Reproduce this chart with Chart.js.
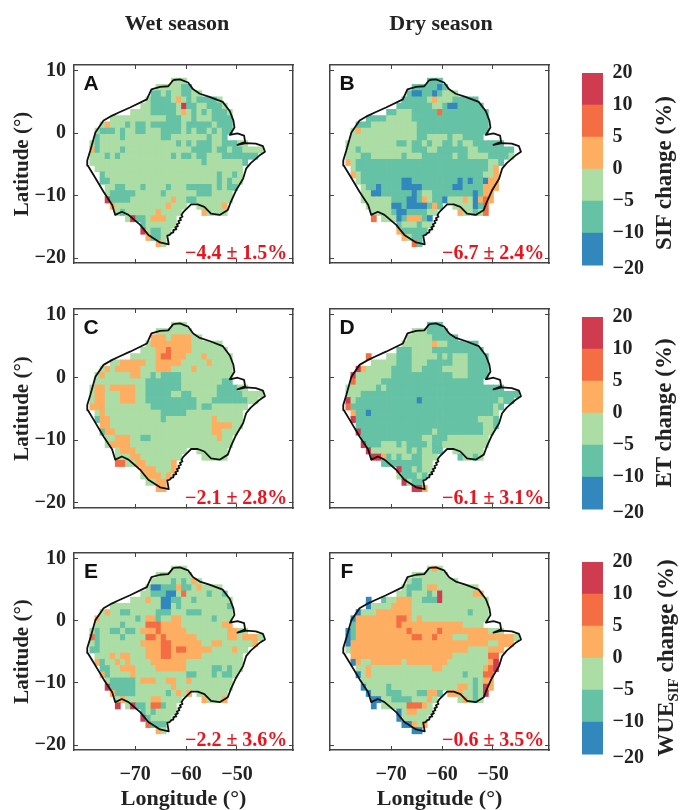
<!DOCTYPE html>
<html>
<head>
<meta charset="utf-8">
<script src="https://cdn.jsdelivr.net/npm/chart.js@4"></script>
<style>
  html, body { margin: 0; padding: 0; background: #fff; }
  #page { position: relative; width: 682px; height: 810px; overflow: hidden; font-family: "Liberation Serif", serif; font-weight: bold; color: #222; }
  #page canvas { position: absolute; }
  .txt { position: absolute; white-space: nowrap; line-height: 1; }
  .head { font-size: 22px; transform: translate(-50%, -50%); }
  .letter { font-family: "Liberation Sans", sans-serif; font-size: 21px; color: #111; transform: translate(-50%, -50%); }
  .stat { font-size: 20px; color: #e8141e; transform: translateY(-50%); }
  .cbtitle { font-size: 23px; transform: translate(-50%, -50%) rotate(-90deg); }
  .cbtitle sub { font-size: 15px; line-height: 0; }
</style>
</head>
<body>
<div id="page"></div>
<script>
// change bins, low to high (digits 1-6 in the panel rows below)
const binColors = ['#3288bd', '#66c2a5', '#abdda4', '#fdae61', '#f46d43', '#cf3c50'];
const binTicks = ['\u221220', '\u221210', '\u22125', '0', '5', '10', '20'];
const latTicks = [10, 0, -10, -20];
const lonTicks = [-70, -60, -50];

// grid cell centres: lon = firstLon + column, lat = firstLat - row
const firstLon = -79.4;
const firstLat = 8.3;

const panelA = [
  '..... ..... ..... ..333 ..... ..... .....',
  '..... ..... ....3 33332 2.... ..... .....',
  '..... ..... ...22 32332 233.. ..... .....',
  '..... ..... ..322 22343 23222 23... .....',
  '..... ..... .3322 22236 22332 223.. .....',
  '..... ....3 33322 22234 32323 2223. .....',
  '..... 33333 33333 32223 32333 2222. .....',
  '...34 33323 22322 22223 22222 3222. .....',
  '..322 23233 22333 22223 23223 2322. .....',
  '..233 33233 33333 22333 33332 332.. .....',
  '.3233 33333 33333 33323 23222 33222 33...',
  '.4233 33233 33333 33333 32222 32232 23333',
  '.3332 32333 33333 33232 23223 33222 2222.',
  '.3333 33333 33333 33333 33323 33333 32...',
  '..333 33333 33333 33333 33333 33333 3....',
  '...23 33333 33333 33333 33333 32332 3....',
  '...22 33333 33333 33333 33333 32323 3....',
  '....3 32233 32333 32333 22222 32322 .....',
  '....3 22222 33333 23333 33222 3333. .....',
  '....6 22223 33333 33433 22333 3333. .....',
  '..... 43333 33333 34333 ..333 334.. .....',
  '..... .3233 33334 3333. ...43 333.. .....',
  '..... ...36 22344 433.. ..... ..... .....',
  '..... ..... .2333 333.. ..... ..... .....',
  '..... ..... .6322 33... ..... ..... .....',
  '..... ..... ..422 3.... ..... ..... .....',
  '..... ..... ....4 3.... ..... ..... .....'
];
const panelB = [
  '..... ..... ..... ..222 ..... ..... .....',
  '..... ..... ....2 22221 2.... ..... .....',
  '..... ..... ...21 12212 333.. ..... .....',
  '..... ..... ..222 22343 33222 22... .....',
  '..... ..... .2222 22233 21122 222.. .....',
  '..... ....2 23332 22225 22222 2222. .....',
  '..... 22223 33332 22222 22222 2222. .....',
  '...22 23333 33333 22222 22222 2222. .....',
  '..343 33333 33333 22222 22222 2222. .....',
  '..333 33333 33333 22333 32332 222.. .....',
  '.3333 33333 32232 23233 22323 32222 22...',
  '.3323 33333 33332 22332 22222 33222 2222.',
  '.3332 23333 33233 32222 22322 33332 2223.',
  '.4322 22222 22222 22222 22222 22223 32...',
  '..322 22222 22222 22222 22222 22223 4....',
  '..432 22222 22222 22222 22222 22233 4....',
  '...32 22222 22112 22222 22212 12214 4....',
  '....3 22122 22111 12222 22112 22244 4....',
  '....3 31122 22221 23322 22222 21244 .....',
  '....3 33333 22211 24322 13334 31454 .....',
  '..... 33333 11211 11242 ..333 3125. .....',
  '..... .3333 21122 2233. ...43 3235. .....',
  '..... .5.33 31244 421.. ..... ..... .....',
  '..... ..... .2333 233.. ..... ..... .....',
  '..... ..... .4222 22... ..... ..... .....',
  '..... ..... ..432 2.... ..... ..... .....',
  '..... ..... ....5 2.... ..... ..... .....'
];
const panelC = [
  '..... ..... ..... ..333 ..... ..... .....',
  '..... ..... ....3 33333 3.... ..... .....',
  '..... ..... ...44 43444 433.. ..... .....',
  '..... ..... ..344 44444 43333 33... .....',
  '..... ..... .3334 45444 43333 333.. .....',
  '..... ....3 33334 55444 33343 3333. .....',
  '..... 33444 44334 44443 33334 3333. .....',
  '...34 34444 43334 44333 34333 3333. .....',
  '..343 33334 43323 22223 33333 3333. .....',
  '..333 33333 33222 22223 33333 3322. .....',
  '.3443 44444 33222 22223 33333 32222 33...',
  '.3443 33444 33222 22332 23333 32222 23333',
  '.3443 33444 33222 22222 22333 22222 2233.',
  '.4443 33333 33322 22222 22322 33333 33...',
  '..343 33333 33333 22222 33333 33333 3....',
  '..244 33333 33333 23333 33333 43333 3....',
  '...44 33333 33333 33333 33333 44443 3....',
  '...24 43333 33333 33333 33333 44333 .....',
  '....3 34443 32233 33333 33333 3433. .....',
  '....3 44443 33333 33333 33333 3333. .....',
  '..... .3444 33333 33333 ..333 333.. .....',
  '..... .3334 43333 3333. ...33 333.. .....',
  '..... .5533 44333 334.. ..... ..... .....',
  '..... ..... .4443 334.. ..... ..... .....',
  '..... ..... .3444 34... ..... ..... .....',
  '..... ..... ..334 4.... ..... ..... .....',
  '..... ..... ....4 4.... ..... ..... .....'
];
const panelD = [
  '..... ..... ..... ..222 ..... ..... .....',
  '..... ..... ....3 33222 2.... ..... .....',
  '..... ..... ...33 33322 222.. ..... .....',
  '..... ..... ..333 33343 32222 22... .....',
  '..... ..... .2223 33322 22222 222.. .....',
  '..... 5...3 32223 33332 32333 2222. .....',
  '..... .3333 32223 33222 22333 2222. .....',
  '...64 33333 22223 32222 33333 2222. .....',
  '..633 33333 22222 22222 22333 2222. .....',
  '..533 33322 22222 22222 22222 222.. .....',
  '.3333 33232 22222 22222 22222 22222 22...',
  '.3332 22222 22222 22222 22222 22222 22222',
  '.6322 22222 22222 12222 22222 22222 2322.',
  '.5222 22222 22222 22222 22222 22222 32...',
  '..422 12222 22222 22222 22222 22222 3....',
  '..622 22222 22222 22222 22222 22333 2....',
  '...22 22222 22222 22222 22222 22233 2....',
  '...62 22222 22222 22232 22222 22233 .....',
  '....2 22222 22222 23322 23333 3333. .....',
  '....6 22233 32322 22322 33333 3333. .....',
  '..... 63333 33323 23322 ..333 333.. .....',
  '..... .6642 32332 2333. ...23 323.. .....',
  '..... ...22 22222 233.. ..... ..... .....',
  '..... ..... .6223 233.. ..... ..... .....',
  '..... ..... .3222 32... ..... ..... .....',
  '..... ..... ..632 2.... ..... ..... .....',
  '..... ..... ....6 64... ..... ..... .....'
];
const panelE = [
  '..... ..... ..... ..333 ..... ..... .....',
  '..... ..... ....3 33333 3.... ..... .....',
  '..... ..... ...33 33232 343.. ..... .....',
  '..... ..... ..311 22242 23433 33... .....',
  '..... ..... .3322 21135 33332 332.. .....',
  '..... ....3 33433 11223 32333 3333. .....',
  '..... 33333 33333 11323 33333 3332. .....',
  '...34 33223 33332 22333 22233 3333. .....',
  '..433 33333 23442 33443 33333 2333. .....',
  '..333 33233 33555 44443 33333 3344. .....',
  '.3233 22322 34445 44444 33333 33344 33...',
  '.5233 33233 33554 54444 44333 33344 34443',
  '.3233 33333 34444 55444 44433 44333 3334.',
  '.2233 33333 33444 55455 44444 33334 33...',
  '..333 43443 33444 55444 44433 33333 3....',
  '..423 34343 33344 44444 33333 33333 3....',
  '...22 33444 33334 44444 33333 22323 3....',
  '...42 33334 33333 33333 22333 23223 .....',
  '....3 22222 34443 34433 43333 3333. .....',
  '....6 22222 33333 33433 33333 3333. .....',
  '..... 42222 33333 32343 4.333 333.. .....',
  '..... .3433 33344 3333. ...43 334.. .....',
  '..... .6.36 22355 233.. ..... ..... .....',
  '..... ..... .2323 333.. ..... ..... .....',
  '..... ..... .6233 33... ..... ..... .....',
  '..... ..... ..522 2.... ..... ..... .....',
  '..... ..... ....4 3.... ..... ..... .....'
];
const panelF = [
  '..... ..... ..... ..343 ..... ..... .....',
  '..... ..... ....3 33333 3.... ..... .....',
  '..... ..... ...32 23333 333.. ..... .....',
  '..... ..... ..322 23443 33333 33... .....',
  '..... ..... .3323 33236 33333 344.. .....',
  '..... 1..23 34443 32226 33333 3333. .....',
  '..... 13333 44443 33333 33333 3333. .....',
  '...13 33444 44443 33333 33333 2333. .....',
  '..144 44444 45543 43333 33333 3333. .....',
  '..244 44444 45444 44444 44443 333.. .....',
  '.1244 44444 44454 44445 44444 44443 33...',
  '.1244 44444 44445 54454 44333 44444 44443',
  '.1444 44444 44444 44444 44444 44443 3444.',
  '.3444 44444 44444 44444 44444 33334 44...',
  '..444 44444 44444 44444 44333 33335 5....',
  '..143 34444 44344 44444 43333 33334 6....',
  '...33 43333 33333 33344 33333 33345 6....',
  '...13 43333 33333 33333 33332 33355 .....',
  '....3 33333 33333 33333 33333 32344 .....',
  '....1 33332 33333 33333 33344 32364 .....',
  '..... 13332 22333 22442 .4443 3236. .....',
  '..... .1133 22223 3343. ...34 323.. .....',
  '..... .1.33 33355 543.. ..... ..... .....',
  '..... ..... .1344 333.. ..... ..... .....',
  '..... ..... .1333 33... ..... ..... .....',
  '..... ..... ..114 34... ..... ..... .....',
  '..... ..... ....1 1.... ..... ..... .....'
];

const boundaryLon = [-62.5,-61.2,-59.6,-58.6,-57.3,-55.4,-52.8,-51.4,-50.7,-50.5,-51.4,-49.9,-48.6,-48.4,-49.9,-48.2,-46.3,-44.9,-44.5,-45.6,-47.3,-48.2,-48.8,-50.2,-51.2,-51.8,-53.4,-55.1,-56.4,-57.7,-59.0,-60.5,-60.9,-60.7,-61.2,-61.0,-61.5,-61.3,-61.8,-61.6,-62.1,-61.9,-62.4,-62.5,-62.9,-63.2,-63.7,-63.4,-65.1,-67.4,-69.0,-71.3,-72.6,-73.9,-74.5,-76.2,-78.1,-79.3,-79.4,-78.8,-77.8,-76.2,-74.5,-73.2,-71.0,-67.7,-66.8,-65.1,-63.5,-62.7,-62.5];
const boundaryLat = [8.5,8.6,8.1,7.0,6.3,5.8,5.0,3.5,2.0,0.9,-0.3,-0.05,-0.4,-1.4,-1.9,-1.6,-1.7,-2.1,-3.0,-3.6,-4.8,-5.7,-7.3,-9.2,-11,-12.3,-13.1,-12.9,-11.8,-11.4,-11.4,-12.6,-13.1,-13.4,-13.6,-13.9,-14.1,-14.4,-14.6,-14.9,-15.1,-15.4,-15.5,-15.9,-16.0,-16.3,-16.4,-17.8,-17.5,-16.3,-14.7,-13.1,-12.6,-13.1,-11.5,-9.4,-6.8,-5.2,-4.4,-2.8,0.1,2.0,2.8,3.3,4.1,5.4,7.0,7.4,7.5,8.3,8.5];

const panelNames = ['A', 'B', 'C', 'D', 'E', 'F'];
const panelRows = [panelA, panelB, panelC, panelD, panelE, panelF];
const panelStats = ['\u22124.4 \u00b1 1.5%', '\u22126.7 \u00b1 2.4%', '\u22122.1 \u00b1 2.8%', '\u22126.1 \u00b1 3.1%', '\u22122.2 \u00b1 3.6%', '\u22120.6 \u00b1 3.5%'];

// layout: plot boxes in page pixels
const plotLefts = [74, 330];
const plotWidth = 219;
const plotTops = [65, 309, 553];
const plotHeights = [198, 199, 197];
const colorbarTops = [73, 317, 562];

const page = document.getElementById('page');
const darkText = '#222';
const frameColor = '#444';
const tickFont = { family: 'Liberation Serif', size: 20, weight: 'bold' };

function addCanvas(left, top, width, height) {
  const c = document.createElement('canvas');
  c.width = width;
  c.height = height;
  c.style.left = left + 'px';
  c.style.top = top + 'px';
  c.style.width = width + 'px';
  c.style.height = height + 'px';
  page.appendChild(c);
  return c;
}

function addText(cls, left, top, text) {
  const d = document.createElement('div');
  d.className = 'txt ' + cls;
  d.style.left = left + 'px';
  d.style.top = top + 'px';
  d.innerHTML = text;
  page.appendChild(d);
}

function cellsFrom(rows) {
  const cells = [], colors = [];
  rows.forEach((row, r) => {
    row.replace(/ /g, '').split('').forEach((code, c) => {
      if (code === '.') return;
      const lat = firstLat - r;
      cells.push({ x: firstLon + c, y: [lat - 0.5, lat + 0.5] });
      colors.push(binColors[Number(code) - 1]);
    });
  });
  return { cells, colors };
}

const useTicks = list => scale => { scale.ticks = list.map(v => ({ value: v })); };
const minusLabel = v => String(v).replace('-', '\u2212');

// the plot boxes are fixed by hand, so tick labels must not push them in
function fixSize(scale, width, height) {
  if (width !== null) scale.width = width;
  if (height !== null) scale.height = height;
  scale.paddingLeft = scale.paddingRight = scale.paddingTop = scale.paddingBottom = 0;
}

function drawPanel(i) {
  const col = i % 2, row = Math.floor(i / 2);
  const hasLat = col === 0, hasLon = row === 2;
  const axisW = hasLat ? 64 : 4;
  const axisH = hasLon ? 63 : 4;
  const left = plotLefts[col] - axisW, top = plotTops[row] - 3;
  const canvas = addCanvas(left, top, axisW + plotWidth + 3, 3 + plotHeights[row] + axisH);
  const { cells, colors } = cellsFrom(panelRows[i]);
  const outline = boundaryLon.map((lon, k) => ({ x: lon, y: boundaryLat[k] }));
  const edge = { color: frameColor, width: 1.5 };
  const marks = { drawOnChartArea: false, tickLength: -4, tickColor: frameColor, lineWidth: 1 };

  new Chart(canvas, {
    type: 'bar',
    data: {
      datasets: [
        { type: 'line', data: outline, borderColor: '#111', borderWidth: 1.8, pointRadius: 0, tension: 0, borderJoinStyle: 'round', order: 0 },
        { type: 'bar', data: cells, backgroundColor: colors, barPercentage: 1, categoryPercentage: 1, order: 1 }
      ]
    },
    options: {
      responsive: false,
      animation: false,
      layout: { padding: { top: 3, right: 3, left: 0, bottom: 0 } },
      plugins: { legend: { display: false }, tooltip: { enabled: false } },
      scales: {
        x: {
          type: 'linear', position: 'bottom', min: -82, max: -39, offset: false,
          afterBuildTicks: useTicks(lonTicks),
          afterFit: s => fixSize(s, null, axisH),
          border: edge, grid: { ...marks, offset: false },
          ticks: { display: hasLon, autoSkip: false, maxRotation: 0, padding: 17, color: darkText, font: tickFont, callback: minusLabel },
          title: { display: hasLon, text: 'Longitude (\u00b0)', color: darkText, font: { family: 'Liberation Serif', size: 22, weight: 'bold' }, padding: 0 }
        },
        x2: {
          type: 'linear', position: 'top', min: -82, max: -39, offset: false,
          afterBuildTicks: useTicks(lonTicks),
          afterFit: s => fixSize(s, null, 0),
          border: edge, grid: { ...marks, offset: false }, ticks: { display: false }
        },
        y: {
          type: 'linear', position: 'left', min: -20.8, max: 10.9,
          afterBuildTicks: useTicks(latTicks),
          afterFit: s => fixSize(s, axisW, null),
          border: edge, grid: marks,
          ticks: { display: hasLat, autoSkip: false, padding: 12, color: darkText, font: tickFont, callback: minusLabel },
          title: { display: hasLat, text: 'Latitude (\u00b0)', color: darkText, font: { family: 'Liberation Serif', size: 21, weight: 'bold' }, padding: 0 }
        },
        y2: {
          type: 'linear', position: 'right', min: -20.8, max: 10.9,
          afterBuildTicks: useTicks(latTicks),
          afterFit: s => fixSize(s, 0, null),
          border: edge, grid: marks, ticks: { display: false }
        }
      }
    }
  });

  addText('letter', plotLefts[col] + 17, plotTops[row] + 17, panelNames[i]);
  addText('stat', plotLefts[col] + (col ? 112 : 111), plotTops[row] + plotHeights[row] - 11, panelStats[i]);
}

function drawColorbar(top) {
  const canvas = addCanvas(581, top - 15, 75, 236);
  new Chart(canvas, {
    type: 'bar',
    data: {
      labels: [''],
      datasets: binColors.map(color => ({ data: [1], backgroundColor: color, barPercentage: 1, categoryPercentage: 1 }))
    },
    options: {
      responsive: false,
      animation: false,
      layout: { padding: { top: 15, left: 1, right: 0, bottom: 0 } },
      plugins: { legend: { display: false }, tooltip: { enabled: false } },
      scales: {
        x: { stacked: true, display: false },
        y: {
          stacked: true, position: 'right', min: -0.9, max: 6,
          // the lowest label sits a little under the end of the bar in the figure
          afterBuildTicks: s => { s.ticks = binTicks.map((t, k) => ({ value: k === 0 ? -0.1 : k })); },
          afterFit: s => fixSize(s, 53, null),
          border: { display: false },
          grid: { display: false },
          ticks: { autoSkip: false, padding: 1.5, color: darkText, font: tickFont, callback: (v, k) => binTicks[k] }
        }
      }
    }
  });
}

panelNames.forEach((n, i) => drawPanel(i));
colorbarTops.forEach(drawColorbar);

addText('head', 177, 23, 'Wet season');
addText('head', 441, 23, 'Dry season');
addText('cbtitle', 663, 173, 'SIF change (%)');
addText('cbtitle', 663, 413, 'ET change (%)');
addText('cbtitle', 665, 658, 'WUE<sub>SIF</sub> change (%)');
</script>
</body>
</html>
